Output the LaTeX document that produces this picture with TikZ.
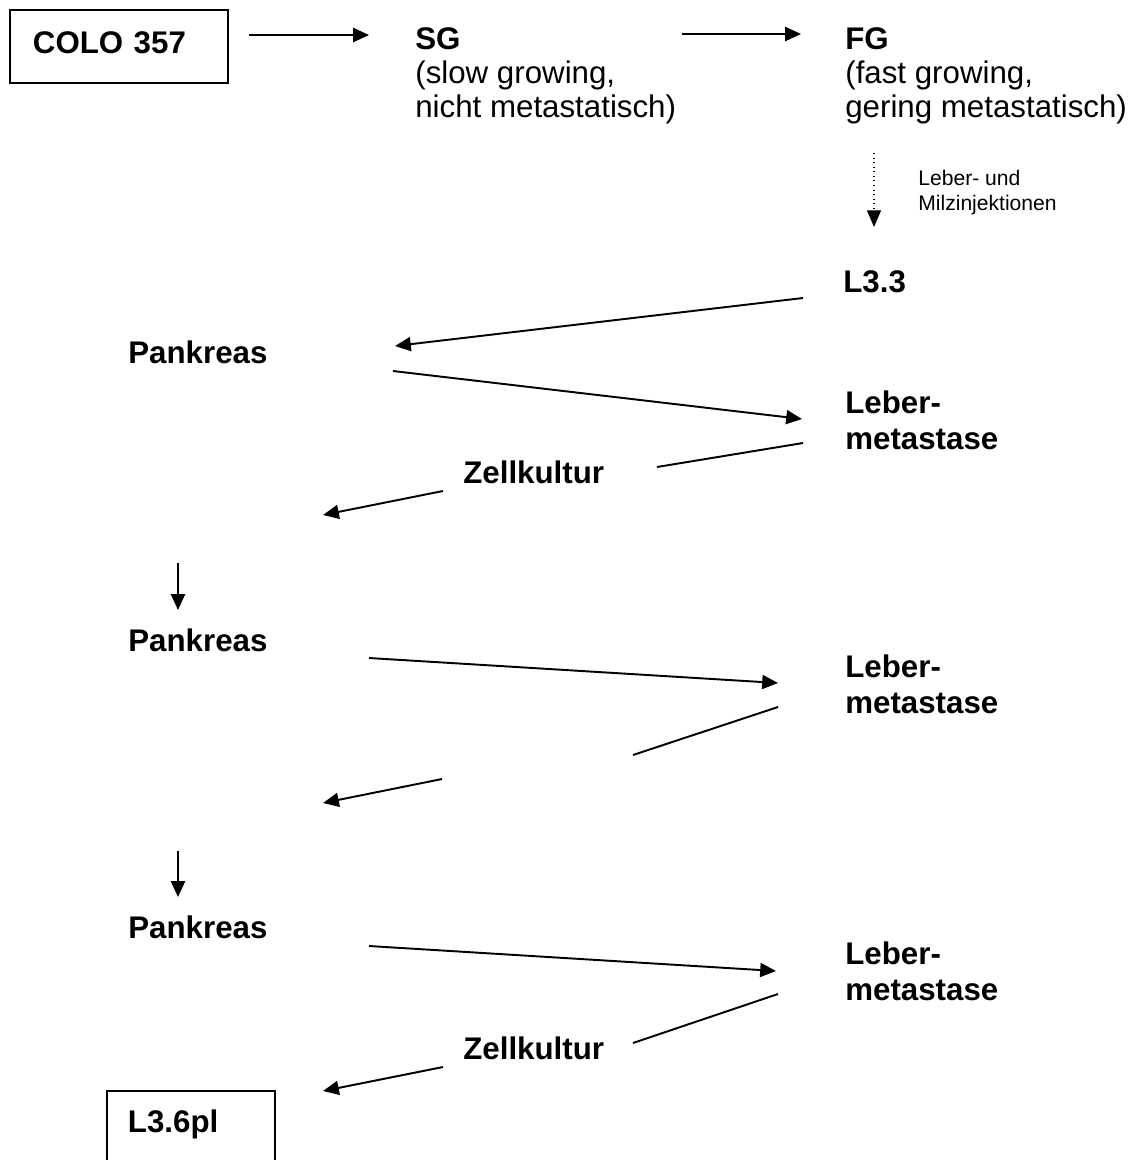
\documentclass[tikz,border=0pt]{standalone}
\usepackage{fontspec}
\setmainfont{Liberation Sans}
\usetikzlibrary{arrows.meta,calc}

\begin{document}
\begin{tikzpicture}[x=0.02cm,y=-0.02cm,
    stage/.style={anchor=base west,inner sep=0pt,align=left,font=\fontsize{17.8}{20.4}\selectfont\bfseries},
    descr/.style={anchor=base west,inner sep=0pt,align=left,font=\fontsize{17.8}{19.1}\selectfont},
    hint/.style={anchor=base west,inner sep=0pt,align=left,font=\fontsize{12}{14.2}\selectfont},
    cellbox/.style={stage,draw,line width=1.1pt,inner ysep=0pt},
    arr/.style={line width=1.1pt,-{Triangle[length=9pt,width=8pt]}},
    link/.style={line width=1.1pt},
    inj/.style={line width=0.6pt,dotted,-{Triangle[length=9.5pt,width=8pt]}}]
    \useasboundingbox (0,0) rectangle (1143,1160);
    \clip (0,0) rectangle (1143,1160);

    % cell lines at the top (multi-line nodes sit on their last baseline)
    \node[cellbox,inner xsep=0.46cm,text width=3.44cm,text height=0.86cm,text depth=0.6cm] (colo) at (9,53) {COLO 357};
    \node[descr] (sg) at (415,117) {\textbf{SG}\\(slow growing,\\nicht metastatisch)};
    \node[descr] (fg) at (845,117) {\textbf{FG}\\(fast growing,\\gering metastatisch)};
    \node[hint] (injtext) at (918,210) {Leber- und\\Milzinjektionen};

    % passages
    \node[stage] (l33) at (843,292) {L3.3};
    \node[stage] (pank1) at (128,363) {Pankreas};
    \node[stage] (leber1) at (845,449) {Leber-\\metastase};
    \node[stage] (zell1) at (463,483) {Zellkultur};
    \node[stage] (pank2) at (128,651) {Pankreas};
    \node[stage] (leber2) at (845,713) {Leber-\\metastase};
    \node[stage] (pank3) at (128,938) {Pankreas};
    \node[stage] (leber3) at (845,1000) {Leber-\\metastase};
    \node[stage] (zell2) at (463,1059) {Zellkultur};
    \node[cellbox,inner xsep=0.42cm,text width=2.52cm,text height=0.82cm,text depth=1cm] (l36) at (106,1132) {L3.6pl};

    % connector ends
    \coordinate (colo-out) at (249,35);
    \coordinate (sg-in) at (369,35);
    \coordinate (sg-out) at (682,34);
    \coordinate (fg-in) at (801,34);
    \coordinate (fg-out) at (874,153);
    \coordinate (l33-in) at (874,227);
    \coordinate (l33-out) at (803,298);
    \coordinate (pank1-in) at (395,346);
    \coordinate (pank1-out) at (393,371);
    \coordinate (leber1-in) at (802,419);
    \coordinate (leber1-out) at (803,443);
    \coordinate (zell1-in) at (657,467);
    \coordinate (zell1-out) at (443,491);
    \coordinate (row1-end) at (323,515);
    \coordinate (pank2-top) at (178,563);
    \coordinate (pank2-in) at (178,610);
    \coordinate (pank2-out) at (369,658);
    \coordinate (leber2-in) at (778,683);
    \coordinate (leber2-out) at (778,707);
    \coordinate (gap-in) at (633,755);
    \coordinate (gap-out) at (442,779);
    \coordinate (row2-end) at (323,803);
    \coordinate (pank3-top) at (178,851);
    \coordinate (pank3-in) at (178,897);
    \coordinate (pank3-out) at (369,946);
    \coordinate (leber3-in) at (776,971);
    \coordinate (leber3-out) at (778,994);
    \coordinate (zell2-in) at (633,1043);
    \coordinate (zell2-out) at (443,1067);
    \coordinate (l36-in) at (323,1091);

    \draw[arr] (colo-out) -- (sg-in);
    \draw[arr] (sg-out) -- (fg-in);
    \draw[inj] (fg-out) -- (l33-in);
    \draw[arr] (l33-out) -- (pank1-in);
    \draw[arr] (pank1-out) -- (leber1-in);
    \draw[link] (leber1-out) -- (zell1-in);
    \draw[arr] (zell1-out) -- (row1-end);
    \draw[arr] (pank2-top) -- (pank2-in);
    \draw[arr] (pank2-out) -- (leber2-in);
    \draw[link] (leber2-out) -- (gap-in);
    \draw[arr] (gap-out) -- (row2-end);
    \draw[arr] (pank3-top) -- (pank3-in);
    \draw[arr] (pank3-out) -- (leber3-in);
    \draw[link] (leber3-out) -- (zell2-in);
    \draw[arr] (zell2-out) -- (l36-in);
\end{tikzpicture}
\end{document}
